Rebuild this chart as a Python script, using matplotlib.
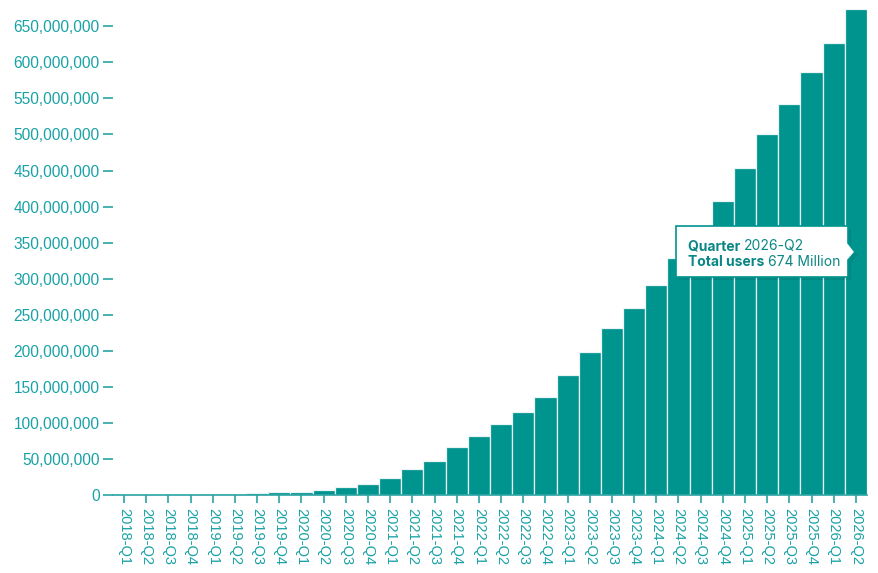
import matplotlib

matplotlib.use("Agg")
import matplotlib.pyplot as plt
from matplotlib.patches import Polygon
from matplotlib.text import Annotation
from matplotlib.ticker import FuncFormatter, MultipleLocator

# ─── Data ─────────────────────────────────────────────────────────────────────
quarters = [
    "2018-Q1", "2018-Q2", "2018-Q3", "2018-Q4",
    "2019-Q1", "2019-Q2", "2019-Q3", "2019-Q4",
    "2020-Q1", "2020-Q2", "2020-Q3", "2020-Q4",
    "2021-Q1", "2021-Q2", "2021-Q3", "2021-Q4",
    "2022-Q1", "2022-Q2", "2022-Q3", "2022-Q4",
    "2023-Q1", "2023-Q2", "2023-Q3", "2023-Q4",
    "2024-Q1", "2024-Q2", "2024-Q3", "2024-Q4",
    "2025-Q1", "2025-Q2", "2025-Q3", "2025-Q4",
    "2026-Q1", "2026-Q2",
]
# total users, millions
users_m = [
    0.2, 0.3, 0.4, 0.5,
    0.7, 1.0, 2.3, 3.7,
    4.8, 7.5, 11.6, 15.8,
    23.0, 36.0, 47.7, 66.5,
    82.0, 99.0, 115.0, 136.0,
    166.0, 199.0, 231.0, 259.0,
    291.0, 328.0, 367.0, 408.0,
    454.0, 500.0, 542.0, 586.0,
    627.0, 674.0,
]
users = [v * 1e6 for v in users_m]

tip_quarter = "2026-Q2"
tip_value = "674 Million"

# ─── Style ────────────────────────────────────────────────────────────────────
BAR = "#00948f"
TEXT = "#19a2a6"
AXIS = "#2aa3a3"
TIP = "#0a8784"

W, H = 879, 573
fig = plt.figure(figsize=(W / 100, H / 100), dpi=100)
ax = fig.add_axes([113 / W, 1 - 495 / H, (867 - 113) / W, (495 - 9) / H])

x = list(range(len(quarters)))
ax.bar(x, users, width=1.0, color=BAR, edgecolor="#e9f5f5", linewidth=0.9)

ax.set_xlim(-0.5, len(quarters) - 0.5)
ax.set_ylim(0, 674e6)
ax.yaxis.set_major_locator(MultipleLocator(50e6))
ax.yaxis.set_major_formatter(FuncFormatter(lambda v, _: f"{v:,.0f}"))

ax.set_xticks(x)
ax.set_xticklabels(quarters, rotation=-90, va="top", ha="center")

for side in ("top", "right", "left"):
    ax.spines[side].set_visible(False)
ax.spines["bottom"].set_color(AXIS)
ax.spines["bottom"].set_linewidth(1.2)

ax.tick_params(axis="y", colors=AXIS, labelcolor=TEXT, length=7.5, width=1.2,
               pad=2, labelsize=11.2)
ax.tick_params(axis="x", colors=AXIS, labelcolor=TEXT, length=6, width=1.2,
               pad=3, labelsize=10.5)
for lab in ax.get_xticklabels() + ax.get_yticklabels():
    lab.set_fontfamily("Liberation Sans")

# ─── Tooltip ──────────────────────────────────────────────────────────────────
def px(xp, yp):
    return (xp / W, 1 - yp / H)

shadow = Polygon([px(679, 229), px(851, 229), px(851, 246), px(858, 255),
                  px(851, 263), px(851, 280), px(679, 280)],
                 closed=True, transform=fig.transFigure, facecolor="black",
                 alpha=0.08, edgecolor="none", zorder=9)
fig.patches.append(shadow)
box = Polygon([px(676, 226), px(848, 226), px(848, 243), px(855, 252),
               px(848, 260), px(848, 277), px(676, 277)],
              closed=True, transform=fig.transFigure, facecolor="white",
              edgecolor=BAR, linewidth=1.2, zorder=10)
fig.patches.append(box)

font = dict(family="Inter", fontsize=10, color=TIP, zorder=11)
t1 = fig.text(*px(688, 250), "Quarter ", fontweight="bold", **font)
fig.add_artist(Annotation(tip_quarter, xy=(1, 0), xycoords=t1, va="bottom", **font))
t2 = fig.text(*px(688, 266), "Total users ", fontweight="bold", **font)
fig.add_artist(Annotation(tip_value, xy=(1, 0), xycoords=t2, va="bottom", **font))

fig.savefig("out.png", dpi=100, facecolor="white")
